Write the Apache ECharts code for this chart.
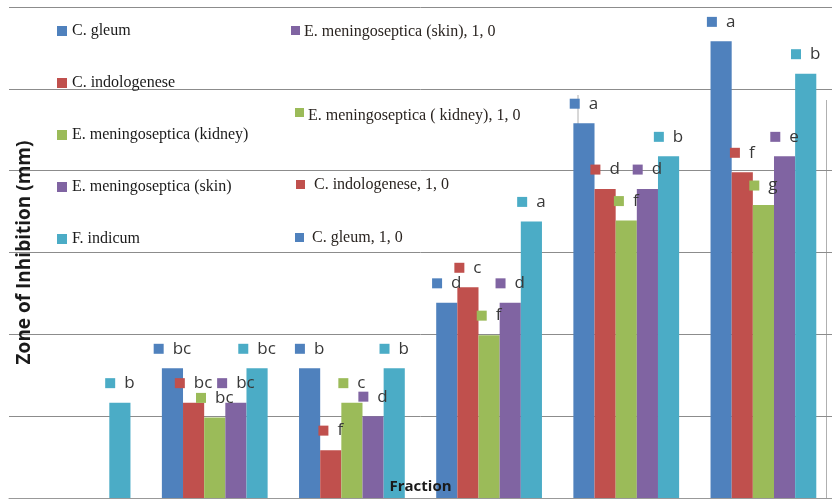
<!DOCTYPE html>
<html>
<head>
<meta charset="utf-8">
<script src="https://cdn.jsdelivr.net/npm/echarts@6/dist/echarts.min.js"></script>
<style>
html,body{margin:0;padding:0;background:#fff;}
#chart{width:832px;height:499px;}
</style>
</head>
<body>
<div id="chart"></div>
<script>
const categories = ['1', '2', '3', '4', '5', '6'];
const seriesNames = ['C. gleum', 'C. indologenese', 'E. meningoseptica (kidney)', 'E. meningoseptica (skin)', 'F. indicum'];
const colors = ['#4F81BD', '#C0504D', '#9BBB59', '#8064A2', '#4BACC6'];

const gleum        = [0, 3.17, 3.17, 4.77, 9.16, 11.16];
const indologenese = [0, 2.33, 1.17, 5.15, 7.55, 7.96];
const kidney       = [0, 1.97, 2.33, 3.98, 6.78, 7.16];
const skin         = [0, 2.33, 2.00, 4.77, 7.55, 8.35];
const indicum      = [2.33, 3.17, 3.17, 6.76, 8.35, 10.37];

const gleumLetters        = ['', 'bc', 'b', 'd', 'a', 'a'];
const indologeneseLetters = ['', 'bc', 'f', 'c', 'd', 'f'];
const kidneyLetters       = ['', 'bc', 'c', 'f', 'f', 'g'];
const skinLetters         = ['', 'bc', 'd', 'd', 'd', 'e'];
const indicumLetters      = ['b', 'bc', 'b', 'a', 'b', 'b'];

const zeroLabelTexts = ['E. meningoseptica (skin), 1, 0', 'E. meningoseptica ( kidney), 1, 0', 'C. indologenese, 1, 0', 'C. gleum, 1, 0'];
const zeroLabelColors = ['#8064A2', '#9BBB59', '#C0504D', '#4F81BD'];

const yTicks = { min: 0, max: 12, interval: 2 };

const allValues = [gleum, indologenese, kidney, skin, indicum];
const allLetters = [gleumLetters, indologeneseLetters, kidneyLetters, skinLetters, indicumLetters];

const series = seriesNames.map((name, si) => ({
  name: name,
  type: 'bar',
  barGap: '0%',
  barCategoryGap: '22.9%',
  itemStyle: { color: colors[si] },
  label: {
    show: true,
    position: 'top',
    distance: 11,
    formatter: p => '{s|}{t|' + allLetters[si][p.dataIndex] + '}',
    rich: {
      s: { width: 10, height: 10, backgroundColor: colors[si] },
      t: { fontSize: 17, fontFamily: 'Open Sans', color: '#383838', padding: [0, 0, 0, 9] }
    }
  },
  data: allValues[si].map((v, i) => allLetters[si][i] === '' ? { value: v, label: { show: false } } : v)
}));

// right column of stray zero-value labels
const zeroPos = [[291, 26, 304, 32], [295, 108, 308, 116], [296, 180, 314, 185], [295, 233, 312, 238]];
const graphics = [];
zeroLabelTexts.forEach((t, i) => {
  const p = zeroPos[i];
  graphics.push({ type: 'rect', left: p[0], top: p[1], shape: { width: 9, height: 9 }, style: { fill: zeroLabelColors[i] } });
  graphics.push({ type: 'text', x: p[2], y: p[3], style: { text: t, font: '16px "Liberation Serif"', fill: '#2a2420', textVerticalAlign: 'middle' } });
});
graphics.push({ type: 'line', shape: { x1: 578, y1: 95, x2: 578, y2: 255 }, style: { stroke: '#b0b0b0', lineWidth: 1 } });
graphics.push({ type: 'line', shape: { x1: 826.5, y1: 100, x2: 826.5, y2: 499 }, style: { stroke: '#b0b0b0', lineWidth: 1 } });

const chart = echarts.init(document.getElementById('chart'));
chart.setOption({
  animation: false,
  backgroundColor: '#fff',
  grid: { left: 9, top: 7, width: 833, height: 491, containLabel: false },
  legend: {
    orient: 'vertical',
    left: 52,
    top: 18,
    itemGap: 36,
    itemWidth: 10,
    itemHeight: 10,
    icon: 'rect',
    textStyle: { fontFamily: 'Liberation Serif', fontSize: 16, lineHeight: 16, color: '#1a1a1a' },
    data: seriesNames
  },
  xAxis: {
    type: 'category',
    data: categories,
    z: 10,
    name: 'Fraction',
    nameLocation: 'middle',
    nameGap: -19,
    nameTextStyle: { fontFamily: 'Open Sans', fontWeight: 'bold', fontSize: 15, color: '#1a1a1a' },
    axisLine: { show: true, lineStyle: { color: '#999' } },
    axisTick: { show: false },
    axisLabel: { show: false }
  },
  yAxis: {
    type: 'value',
    min: yTicks.min,
    max: yTicks.max,
    interval: yTicks.interval,
    name: 'Zone of Inhibition (mm)',
    nameLocation: 'middle',
    nameRotate: 90,
    nameGap: -25,
    nameTextStyle: { fontFamily: 'Open Sans', fontWeight: 'bold', fontSize: 19, color: '#1a1a1a' },
    axisLine: { show: false },
    axisTick: { show: false },
    axisLabel: { show: false },
    splitLine: { lineStyle: { color: '#8c8c8c', width: 1 } }
  },
  graphic: graphics,
  series: series
});
</script>
</body>
</html>
